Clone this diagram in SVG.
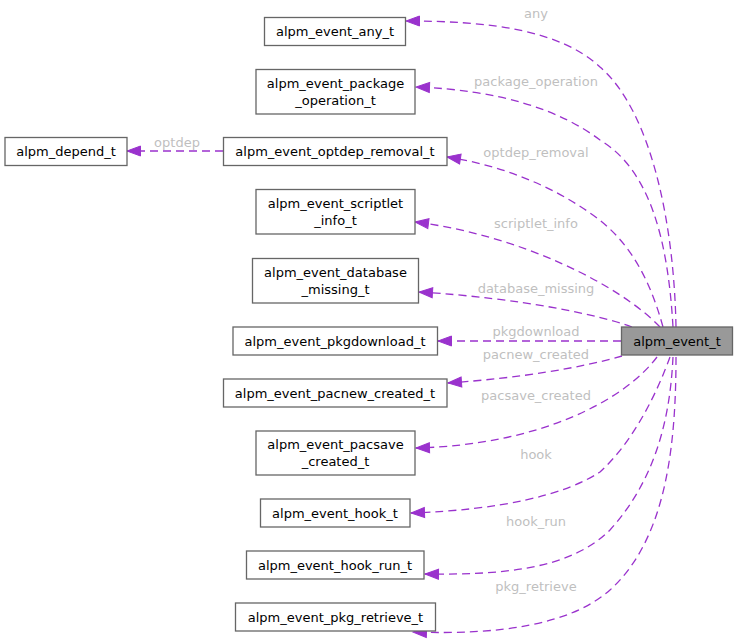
<svg xmlns="http://www.w3.org/2000/svg" width="738" height="640" viewBox="0 0 738 640">
<style>
.node rect{fill:#ffffff;stroke:#666666;stroke-width:1.3}
.node.main rect{fill:#999999}
.node text{font-family:"DejaVu Sans","Liberation Sans",sans-serif;font-size:13px;fill:#000000;text-anchor:middle}
.edge{fill:none;stroke:#9a32cd;stroke-width:1.3;stroke-dasharray:8,5;marker-end:url(#ah)}
.lbl{font-family:"DejaVu Sans","Liberation Sans",sans-serif;font-size:13px;fill:#bfbfbf;text-anchor:middle}
</style>
<defs>
<marker id="ah" markerUnits="userSpaceOnUse" markerWidth="14" markerHeight="10" refX="13.5" refY="5" orient="auto" overflow="visible">
<path d="M0,0 L13.5,5 L0,10 z" fill="#9a32cd" stroke="#9a32cd" stroke-width="1" stroke-dasharray="none"/>
</marker>
</defs>
<rect width="738" height="640" fill="#ffffff"/>
<g id="connectors">
<path class="edge" d="M676,327 C674,220 650,110 600,67 C560,30 490,21 406,21"/>
<text class="lbl" x="536" y="18">any</text>
<path class="edge" d="M673,327 C668,240 650,170 600,140 C560,110 500,90 416,87"/>
<text class="lbl" x="536" y="86">package_operation</text>
<path class="edge" d="M663,327 C650,280 630,240 590,213 C550,185 500,165 447,157"/>
<text class="lbl" x="536" y="157">optdep_removal</text>
<path class="edge" d="M223,151 L127,151"/>
<text class="lbl" x="177" y="147">optdep</text>
<path class="edge" d="M660,327 C620,285 520,235 415,222"/>
<text class="lbl" x="536" y="228">scriptlet_info</text>
<path class="edge" d="M632,327 C600,315 520,298 419,292"/>
<text class="lbl" x="536" y="293">database_missing</text>
<path class="edge" d="M621,341 L438,341"/>
<text class="lbl" x="536" y="336">pkgdownload</text>
<path class="edge" d="M622,356 C580,368 520,378 448,383"/>
<text class="lbl" x="536" y="359">pacnew_created</text>
<path class="edge" d="M657,357 C625,400 540,445 416,448"/>
<text class="lbl" x="536" y="400">pacsave_created</text>
<path class="edge" d="M670,357 C658,390 635,440 600,472 C565,495 500,510 411,513"/>
<text class="lbl" x="536" y="459">hook</text>
<path class="edge" d="M673,357 C670,420 655,480 610,530 C570,570 500,575 425,574"/>
<text class="lbl" x="536" y="526">hook_run</text>
<path class="edge" d="M676,357 C676,450 665,540 610,590 C570,625 500,635 413,632"/>
<text class="lbl" x="536" y="591">pkg_retrieve</text>
</g>
<g id="alpm_event_t" class="node main"><rect x="621.5" y="327" width="111" height="28"/><text x="677" y="345.5">alpm_event_t</text></g>
<g id="alpm_event_any_t" class="node"><rect x="264.5" y="17.5" width="141" height="28"/><text x="335" y="35.5">alpm_event_any_t</text></g>
<g id="alpm_event_package_operation_t" class="node"><rect x="256" y="69.5" width="159" height="44.5"/><text x="335.5" y="87.5">alpm_event_package</text><text x="335.5" y="104.5">_operation_t</text></g>
<g id="alpm_event_optdep_removal_t" class="node"><rect x="223.5" y="137.5" width="223.5" height="28"/><text x="335" y="155.5">alpm_event_optdep_removal_t</text></g>
<g id="alpm_depend_t" class="node"><rect x="5" y="137.5" width="122" height="28"/><text x="66" y="155.5">alpm_depend_t</text></g>
<g id="alpm_event_scriptlet_info_t" class="node"><rect x="256" y="189.5" width="159" height="44.5"/><text x="335.5" y="207.5">alpm_event_scriptlet</text><text x="335.5" y="224.5">_info_t</text></g>
<g id="alpm_event_database_missing_t" class="node"><rect x="252.5" y="258.5" width="166" height="44.5"/><text x="335.5" y="276.5">alpm_event_database</text><text x="335.5" y="293.5">_missing_t</text></g>
<g id="alpm_event_pkgdownload_t" class="node"><rect x="233" y="327" width="204.5" height="28"/><text x="335" y="345.5">alpm_event_pkgdownload_t</text></g>
<g id="alpm_event_pacnew_created_t" class="node"><rect x="223.5" y="379" width="223.5" height="28"/><text x="335" y="397.5">alpm_event_pacnew_created_t</text></g>
<g id="alpm_event_pacsave_created_t" class="node"><rect x="256" y="431" width="159" height="44"/><text x="335.5" y="449">alpm_event_pacsave</text><text x="335.5" y="466">_created_t</text></g>
<g id="alpm_event_hook_t" class="node"><rect x="260.5" y="499" width="149.5" height="28"/><text x="335" y="517.5">alpm_event_hook_t</text></g>
<g id="alpm_event_hook_run_t" class="node"><rect x="246.5" y="551" width="177.5" height="28"/><text x="335" y="569.5">alpm_event_hook_run_t</text></g>
<g id="alpm_event_pkg_retrieve_t" class="node"><rect x="235.5" y="603" width="200" height="28"/><text x="335.5" y="621.5">alpm_event_pkg_retrieve_t</text></g>
</svg>
